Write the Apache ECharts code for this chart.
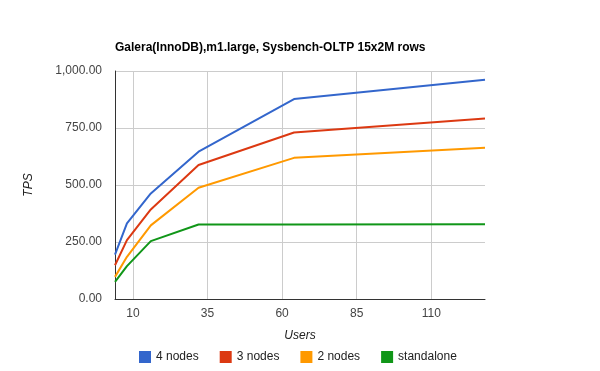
<!DOCTYPE html>
<html>
<head>
<meta charset="utf-8">
<script src="https://cdn.jsdelivr.net/npm/echarts@6/dist/echarts.min.js"></script>
<style>html,body{margin:0;padding:0;background:#fff}#c{width:600px;height:371px}</style>
</head>
<body>
<div id="c"></div>
<script>
const users = [4, 8, 16, 32, 64, 128];
const nodes4 = [195, 332, 463, 646, 877, 962];
const nodes3 = [148, 258, 393, 588, 730, 792];
const nodes2 = [97, 185, 323, 488, 619, 663];
const standalone = [75, 144, 254, 327, 327, 328];
const xTicks = [10, 35, 60, 85, 110];
const seriesNames = ['4 nodes', '3 nodes', '2 nodes', 'standalone'];
const colors = ['#3366cc', '#dc3912', '#ff9900', '#109618'];

const pairs = arr => users.map((u, i) => [u, arr[i]]);
const allData = [nodes4, nodes3, nodes2, standalone];
const font = 'Arial, "Liberation Sans", sans-serif';

const chart = echarts.init(document.getElementById('c'));
chart.setOption({
  animation: false,
  color: colors,
  title: {
    text: 'Galera(InnoDB),m1.large, Sysbench-OLTP 15x2M rows',
    left: 110, top: 37,
    textStyle: {fontFamily: font, fontSize: 12, fontWeight: 'bold', color: '#000'}
  },
  legend: {
    bottom: 3, left: 134,
    icon: 'rect', itemWidth: 12, itemHeight: 12, itemGap: 21,
    textStyle: {fontFamily: font, fontSize: 12, color: '#222'},
    data: seriesNames
  },
  grid: {left: 115, right: 115, top: 71, bottom: 72, containLabel: false},
  xAxis: {
    type: 'value', min: 4, max: 128,
    name: 'Users', nameLocation: 'middle', nameGap: 31,
    nameTextStyle: {fontFamily: font, fontSize: 12, fontStyle: 'italic', color: '#222'},
    axisLine: {show: true, lineStyle: {color: '#333', width: 1}},
    axisTick: {show: false, customValues: xTicks},
    axisLabel: {customValues: xTicks, fontFamily: font, fontSize: 12, color: '#444', margin: 9},
    splitLine: {show: true, lineStyle: {color: '#cccccc', width: 1}}
  },
  yAxis: {
    type: 'value', min: 0, max: 1000, interval: 250,
    name: 'TPS', nameLocation: 'middle', nameGap: 80,
    nameTextStyle: {fontFamily: font, fontSize: 12, fontStyle: 'italic', color: '#222'},
    axisLine: {show: true, lineStyle: {color: '#333', width: 1}},
    axisTick: {show: false},
    axisLabel: {
      fontFamily: font, fontSize: 12, color: '#444', margin: 13,
      formatter: v => v.toLocaleString('en-US', {minimumFractionDigits: 2, maximumFractionDigits: 2})
    },
    splitLine: {show: true, lineStyle: {color: '#cccccc', width: 1}}
  },
  series: seriesNames.map((n, i) => ({
    name: n, type: 'line', data: pairs(allData[i]),
    showSymbol: false, symbol: 'none',
    lineStyle: {width: 2},
    z: 10 - i
  }))
});
</script>
</body>
</html>
